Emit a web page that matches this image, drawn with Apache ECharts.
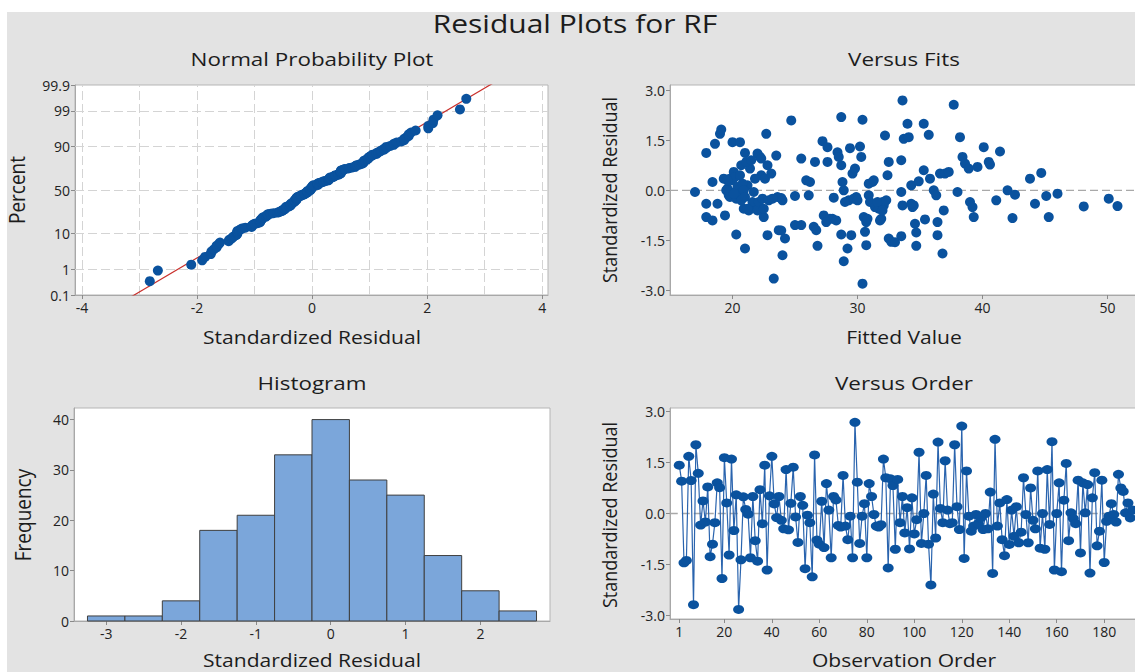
<!DOCTYPE html>
<html><head><meta charset="utf-8">
<script src="https://cdn.jsdelivr.net/npm/echarts@6/dist/echarts.min.js"></script>
<style>
html,body{margin:0;padding:0;background:#fff;overflow:hidden;width:1135px;height:672px;}
#c{width:1180px;height:672px;
background:linear-gradient(#fff,#fff) 0 0/100% 12px no-repeat,linear-gradient(#fff,#fff) 0 0/7px 100% no-repeat,#e3e3e3;}
</style>
</head><body><div id="c"></div>
<script>
// ---------- DATA ----------
const residualsByOrder = [
 1.42,0.95,-1.45,-1.38,1.68,0.97,-2.68,2.02,1.18,-0.34,
 0.37,-0.25,0.78,-1.27,-0.90,-0.27,0.90,0.76,-1.91,1.64,
 0.31,-1.22,1.60,-0.50,0.55,-2.82,-1.36,0.49,0.12,-0.02,
 -1.30,0.50,-0.80,-1.40,0.70,-0.30,1.42,-1.66,0.52,1.68,
 0.28,-0.12,0.50,-0.20,-0.45,1.29,-0.48,0.30,1.36,-0.10,
 -0.85,0.50,0.24,-1.62,-0.05,-0.27,-1.86,1.72,-0.78,-0.90,
 0.36,-1.00,0.88,0.10,-1.30,0.50,0.40,-0.35,-0.40,1.12,
 -0.37,-0.77,-0.08,-1.30,2.68,0.92,-0.88,-0.08,0.29,-1.30,
 0.88,0.50,-0.03,-0.37,-0.40,-0.33,1.60,1.05,-1.60,1.02,
 0.82,-1.05,1.00,-0.27,0.50,-0.57,0.17,-1.04,0.46,-0.60,
 -0.18,1.80,-0.88,0.00,1.12,-0.90,-2.10,0.57,-0.72,2.10,
 0.15,-0.27,1.55,0.10,-0.30,-0.27,2.02,0.20,-0.47,2.57,
 -1.32,1.25,-0.08,-0.52,-0.37,-0.03,-0.30,-0.13,-0.47,0.00,
 -0.45,0.63,-1.76,2.18,-0.37,0.31,-0.77,-1.24,0.41,-0.91,
 0.10,-0.67,0.20,-0.86,-0.55,1.05,-0.03,-0.86,0.75,-0.20,
 -0.45,1.25,-1.02,0.00,-1.05,1.29,-0.32,2.11,-1.66,0.00,
 0.90,-1.71,0.39,1.47,-0.80,0.02,-0.15,-0.30,0.98,-1.16,
 0.90,0.02,0.85,-1.75,0.46,1.20,-0.95,-0.52,0.98,-1.44,
 -0.23,-0.08,0.29,-0.03,-0.25,1.15,0.75,0.65,0.02,0.31,
 -0.13,0.10
];
const fitsPoints = [
 [17.0,-0.05],[17.9,1.12],[17.9,-0.40],[17.9,-0.80],[18.4,0.25],[18.4,-0.90],[18.6,1.39],[18.8,-0.40],
 [19.0,1.69],[19.1,1.82],[19.4,-0.75],[19.3,0.35],[19.6,0.05],[19.7,-0.15],[19.8,0.35],[20.0,1.44],
 [20.1,0.55],[20.2,-0.05],[20.3,-1.32],[20.6,1.44],[20.7,0.75],[20.9,-0.55],[21.0,1.12],[21.0,-1.74],
 [21.2,0.15],[21.4,0.65],[21.7,-0.05],[21.9,-0.50],[22.0,1.10],[22.2,1.00],[22.3,0.45],[22.5,-0.80],
 [22.6,0.35],[22.8,0.75],[22.7,1.69],[22.8,-1.34],[23.1,0.50],[23.3,-2.64],[23.5,1.04],[23.6,-0.20],
 [23.7,-1.19],[23.9,-0.23],[24.0,-1.94],[24.2,-1.44],[24.7,2.09],[25.0,-0.17],[25.0,-1.04],[25.5,0.95],
 [25.5,-1.04],[25.9,0.30],[26.1,-0.15],[26.2,0.25],[26.5,-1.09],[26.6,0.85],[26.7,-1.19],[26.8,-1.66],
 [27.2,1.47],[27.3,-0.75],[27.6,0.85],[27.6,1.29],[27.8,-0.85],[28.0,-0.85],[28.1,-0.22],[28.4,1.14],
 [28.5,1.00],[28.7,0.75],[28.7,-1.32],[28.7,2.19],[28.8,0.25],[28.9,0.00],[28.9,-2.12],[29.2,-1.74],
 [29.3,-0.30],[29.4,1.26],[29.5,-1.34],[29.6,0.50],[29.8,0.65],[29.9,-0.20],[30.2,1.31],[30.3,1.00],
 [30.4,2.11],[30.4,-2.79],[30.5,-0.80],[30.6,-1.24],[30.7,-0.95],[30.7,-1.64],[30.9,-0.15],[31.0,-0.35],
 [31.2,0.25],[31.4,-0.50],[31.7,-0.55],[31.9,-0.85],[32.0,-0.35],[32.1,-0.45],[32.2,1.64],[32.4,0.45],
 [32.5,-1.44],[32.7,-1.54],[32.5,0.85],[33.5,0.90],[33.5,-0.05],[33.6,-0.45],[33.5,-1.37],[33.6,2.69],
 [33.7,1.54],[34.0,1.99],[34.1,1.59],[34.3,0.15],[34.4,-0.50],[34.6,-1.00],[34.7,-1.26],[34.7,-1.66],
 [34.9,0.27],[35.3,1.99],[35.4,-0.87],[35.3,0.60],[35.7,1.66],[35.8,0.35],[36.1,0.00],[36.3,-0.15],
 [36.4,-0.95],[36.4,-1.34],[36.6,0.50],[36.8,-1.89],[36.9,-0.60],[37.0,0.50],[37.3,0.55],[37.7,2.56],
 [38.0,-0.05],[38.2,1.59],[38.4,1.00],[38.6,0.80],[38.9,0.65],[39.0,-0.35],[39.2,-0.50],[39.3,-0.80],
 [39.6,0.70],[40.1,1.29],[40.5,0.85],[40.6,0.77],[41.1,-0.30],[41.4,1.16],[42.0,0.00],[42.4,-0.83],
 [42.6,-0.13],[43.8,0.35],[44.2,-0.40],[44.7,0.52],[45.1,-0.17],[45.3,-0.80],[46.0,-0.10],[48.1,-0.48],
 [50.1,-0.25],[50.8,-0.47],
 [19.5,0.00],[19.8,-0.20],[20.0,0.30],[20.2,0.40],[20.3,-0.25],[20.4,0.10],[20.5,-0.10],[20.6,0.45],
 [20.7,-0.30],[20.8,0.20],[20.9,0.00],[21.0,-0.20],[21.1,0.85],[21.3,-0.60],[21.5,0.90],[21.6,-0.35],
 [21.8,0.35],[22.0,-0.60],[22.1,-0.35],[22.3,0.95],[22.4,-0.25],[22.5,-0.55],[22.9,-0.30],[23.2,-0.25],
 [24.0,-0.30],[29.0,-0.35],[29.7,-0.25],[30.0,-0.30],[30.9,0.20],[31.3,0.30],[31.6,-0.35],[32.0,-0.60],
 [32.3,-0.30],[34.5,-0.45],[23.9,-1.20],[20.1,-0.10],[19.6,0.30],[21.2,-0.55],[27.5,-0.95],[28.3,-0.90],
 [30.8,-0.85],[31.8,-0.90],[33.0,-1.55],[34.3,-0.40]
];
const histCenters = [-3,-2.5,-2,-1.5,-1,-0.5,0,0.5,1,1.5,2,2.5];
const histCounts  = [1,1,4,18,21,33,40,28,25,13,6,2];
const histBinWidth = 0.5;
const nppPercentTicks = [0.1,1,10,50,90,99,99.9];
const nppXTicks = [-4,-2,0,2,4];
const nppXGrid = [-4,-3,-2,-1,0,1,2,3,4];
const fitsXTicks = [20,30,40,50];
const residTicks = [-3,-1.5,0,1.5,3];
const orderTicks = [1,20,40,60,80,100,120,140,160,180];
const histXTicks = [-3,-2,-1,0,1,2];
const histYTicks = [0,10,20,30,40];
const refLineMean = 0.0, refLineSd = 1.0;

// ---------- helpers ----------
function qnorm(p){
 const a=[-3.969683028665376e+01,2.209460984245205e+02,-2.759285104469687e+02,1.383577518672690e+02,-3.066479806614716e+01,2.506628277459239e+00];
 const b=[-5.447609879822406e+01,1.615858368580409e+02,-1.556989798598866e+02,6.680131188771972e+01,-1.328068155288572e+01];
 const c=[-7.784894002430293e-03,-3.223964580411365e-01,-2.400758277161838e+00,-2.549732539343734e+00,4.374664141464968e+00,2.938163982698783e+00];
 const d=[7.784695709041462e-03,3.224671290700398e-01,2.445134137142996e+00,3.754408661907416e+00];
 const pl=0.02425, ph=1-pl; let q,r;
 if(p<pl){q=Math.sqrt(-2*Math.log(p));return (((((c[0]*q+c[1])*q+c[2])*q+c[3])*q+c[4])*q+c[5])/((((d[0]*q+d[1])*q+d[2])*q+d[3])*q+1);}
 if(p>ph){q=Math.sqrt(-2*Math.log(1-p));return -(((((c[0]*q+c[1])*q+c[2])*q+c[3])*q+c[4])*q+c[5])/((((d[0]*q+d[1])*q+d[2])*q+d[3])*q+1);}
 q=p-0.5;r=q*q;return (((((a[0]*r+a[1])*r+a[2])*r+a[3])*r+a[4])*r+a[5])*q/(((((b[0]*r+b[1])*r+b[2])*r+b[3])*r+b[4])*r+1);
}
const FONT = '"Open Sans", "Noto Sans", sans-serif';
const BLUE = '#0a529e';
const nppZTicks = nppPercentTicks.map(p => qnorm(p/100));
const zMin = nppZTicks[0], zMax = nppZTicks[nppZTicks.length-1];

const sorted = residualsByOrder.slice().sort((a,b)=>a-b);
const nObs = sorted.length;
const nppPoints = sorted.map((v,i)=>[v, qnorm((i+1-0.3)/(nObs+0.4))]);
const refLine = [[-4.5,(-4.5-refLineMean)/refLineSd],[4.5,(4.5-refLineMean)/refLineSd]];
const orderPoints = residualsByOrder.map((v,i)=>[i+1,v]);

function axis(gi, min, max, ticks, fmt){
  return {
    type:'value', gridIndex:gi, min:min, max:max,
    splitLine:{show:false},
    axisLine:{show:true, onZero:false, lineStyle:{color:'#a8a8a8', width:1}},
    axisTick:{show:true, inside:false, length:4, customValues:ticks, lineStyle:{color:'#8a8a8a'}},
    axisLabel:{show:true, customValues:ticks, formatter:fmt, color:'#222', fontSize:14, fontFamily:FONT, margin:5,
      showMinLabel:true, showMaxLabel:true, hideOverlap:false}
  };
}
const gridBase = {show:true, backgroundColor:'#fff', borderColor:'#b5b5b5', borderWidth:1, containLabel:false};

function txt(x,y,s,size,sx,rot){
  const vertical = !!rot;
  return {type:'text', x:x, y:y, rotation:rot||0, silent:true,
    scaleX: vertical ? 1 : sx, scaleY: vertical ? sx : 1,
    style:{text:s, fontSize:size, fontFamily:FONT, fill:'#1c1c1c', align:'center', verticalAlign:'middle'}};
}

const option = {
  animation:false,
  grid:[
    Object.assign({left:75, top:85, width:473, height:210}, gridBase),
    Object.assign({left:670, top:85, width:490, height:210}, gridBase),
    Object.assign({left:74, top:408, width:476, height:213}, gridBase),
    Object.assign({left:670, top:408, width:495, height:211}, gridBase)
  ],
  xAxis:[
    axis(0,-4.12,4.10,nppXTicks,v=>String(v)),
    axis(1,15,54.2,fitsXTicks,v=>String(v)),
    axis(2,-3.43,2.93,histXTicks,v=>String(v)),
    axis(3,-2.9,205.6,orderTicks,v=>String(v))
  ],
  yAxis:[
    axis(0,zMin,zMax,nppZTicks,v=>{let bi=0;nppZTicks.forEach((z,i)=>{if(Math.abs(z-v)<Math.abs(nppZTicks[bi]-v))bi=i;});return String(nppPercentTicks[bi]);}),
    axis(1,-3.13,3.15,residTicks,v=>v.toFixed(1)),
    axis(2,0,42.3,histYTicks,v=>String(v)),
    axis(3,-3.1,3.1,residTicks,v=>v.toFixed(1))
  ],
  series:[
    {type:'line', xAxisIndex:0, yAxisIndex:0, data:[], z:1, silent:true,
     markLine:{silent:true, z:1, symbol:'none', label:{show:false}, animation:false,
       lineStyle:{color:'#d4d4d4', type:[9,4], width:1},
       data:[...nppXGrid.map(v=>({xAxis:v})), ...nppZTicks.slice(1,-1).map(z=>({yAxis:z}))]}},
    {type:'line', xAxisIndex:0, yAxisIndex:0, data:refLine, z:2, clip:true, showSymbol:false, symbol:'none',
     lineStyle:{color:'#c9302c', width:1.2}, silent:true},
    {type:'scatter', xAxisIndex:0, yAxisIndex:0, data:nppPoints, z:3, symbolSize:10, itemStyle:{color:BLUE, opacity:1}},
    {type:'line', xAxisIndex:1, yAxisIndex:1, data:[[15,0],[60,0]], z:1, symbol:'none', silent:true,
     lineStyle:{color:'#a9a9a9', type:[8,4], width:1.4}},
    {type:'scatter', xAxisIndex:1, yAxisIndex:1, data:fitsPoints, z:3, symbolSize:10, itemStyle:{color:BLUE, opacity:1}},
    {type:'custom', xAxisIndex:2, yAxisIndex:2, z:2,
     data:histCenters.map((c,i)=>[c,histCounts[i]]),
     encode:{x:0,y:1},
     renderItem:(params,api)=>{
       const c=api.value(0), h=api.value(1);
       const p0=api.coord([c-histBinWidth/2,h]);
       const p1=api.coord([c+histBinWidth/2,0]);
       return {type:'rect', shape:{x:p0[0],y:p0[1],width:p1[0]-p0[0],height:p1[1]-p0[1]},
         style:{fill:'#7ba6da', stroke:'#3f3f3f', lineWidth:1}};
     }},
    {type:'line', xAxisIndex:3, yAxisIndex:3, data:[[-3,0],[210,0]], z:1, symbol:'none', silent:true,
     lineStyle:{color:'#a9a9a9', type:[8,4], width:1.4}},
    {type:'line', xAxisIndex:3, yAxisIndex:3, data:orderPoints, z:3, symbol:'circle', symbolSize:[11,9], showSymbol:true,
     lineStyle:{color:'#2a64ae', width:1.2}, itemStyle:{color:BLUE, opacity:1}}
  ],
  graphic:[
    txt(575,23,'Residual Plots for RF',25,1.2),
    txt(312,59,'Normal Probability Plot',19,1.18),
    txt(904,59,'Versus Fits',19,1.18),
    txt(312,383,'Histogram',19,1.18),
    txt(904,383,'Versus Order',19,1.18),
    txt(312,337,'Standardized Residual',18,1.17),
    txt(904,337,'Fitted Value',18,1.17),
    txt(312,660,'Standardized Residual',18,1.17),
    txt(904,660,'Observation Order',18,1.17),
    txt(16,190,'Percent',19,1.15,Math.PI/2),
    txt(22,515,'Frequency',19,1.15,Math.PI/2),
    txt(609,190,'Standardized Residual',18,1.15,Math.PI/2),
    txt(609,515,'Standardized Residual',18,1.15,Math.PI/2)
  ]
};
const chart = echarts.init(document.getElementById('c'), null, {renderer:'svg'});
chart.setOption(option);
</script>
</body></html>
